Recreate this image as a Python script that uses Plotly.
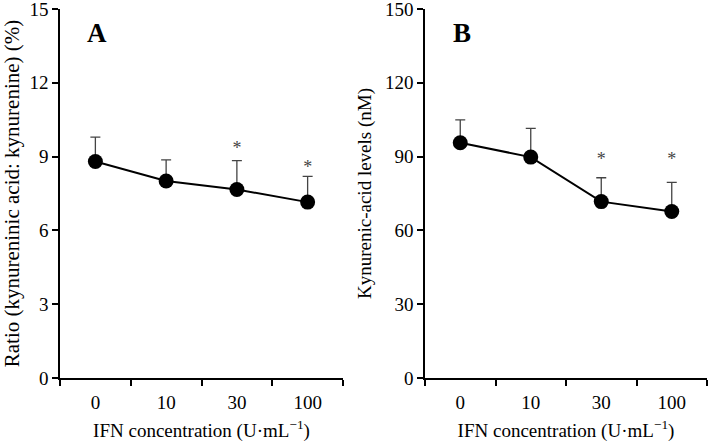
import plotly.graph_objects as go

categories = ["0", "10", "30", "100"]
ratio_mean = [8.80, 8.01, 7.66, 7.15]
ratio_err = [0.99, 0.86, 1.18, 1.05]
kyna_mean = [95.6, 89.8, 71.7, 67.7]
kyna_err = [9.3, 11.7, 9.7, 11.8]
ratio_star_cats = ["30", "100"]
ratio_star_y = [9.3, 8.5]
kyna_star_cats = ["30", "100"]
kyna_star_y = [88.5, 88.5]

font_family = "Liberation Serif, Times New Roman, serif"
W, H = 709, 445
TOP, BOT = 9, 67
PH = H - TOP - BOT

fig = go.Figure()

def add_panel(xa, ya, mean, err):
    fig.add_trace(go.Scatter(
        x=categories, y=mean, xaxis=xa, yaxis=ya, mode="lines+markers",
        line=dict(color="black", width=2),
        marker=dict(color="black", size=15),
        error_y=dict(type="data", array=err, arrayminus=[0]*len(err), symmetric=False,
                     color="#444444", thickness=1.3, width=5),
        showlegend=False, hoverinfo="skip"))

add_panel("x", "y", ratio_mean, ratio_err)
add_panel("x2", "y2", kyna_mean, kyna_err)

fig.add_trace(go.Scatter(x=ratio_star_cats, y=ratio_star_y, xaxis="x", yaxis="y",
                         mode="text", text=["*"]*len(ratio_star_cats),
                         textfont=dict(family=font_family, size=18, color="#444444"),
                         showlegend=False, hoverinfo="skip"))
fig.add_trace(go.Scatter(x=kyna_star_cats, y=kyna_star_y, xaxis="x2", yaxis="y2",
                         mode="text", text=["*"]*len(kyna_star_cats),
                         textfont=dict(family=font_family, size=18, color="#444444"),
                         showlegend=False, hoverinfo="skip"))

xcommon = dict(type="category", categoryorder="array", categoryarray=categories,
               range=[-0.5, 3.5], tickson="boundaries", ticks="outside", ticklen=6,
               tickwidth=1.5, tickcolor="black", showline=True, linecolor="black",
               linewidth=1.5, showgrid=False, zeroline=False, automargin=False,
               ticklabeloverflow="allow", ticklabelstandoff=6,
               tickfont=dict(family=font_family, size=19, color="black"),
               title=dict(text="IFN concentration (U·mL<sup>−1</sup>)", standoff=12,
                          font=dict(family=font_family, size=19, color="black")))
ycommon = dict(ticks="outside", ticklen=6, tickwidth=1.5, tickcolor="black",
               showline=True, linecolor="black", linewidth=1.5, showgrid=False,
               zeroline=False, automargin=False, ticklabeloverflow="allow",
               tickfont=dict(family=font_family, size=19, color="black"))

fig.update_layout(
    width=W, height=H, paper_bgcolor="white", plot_bgcolor="white",
    margin=dict(l=0, r=0, t=TOP, b=BOT),
    xaxis=dict(domain=[60/W, 343/W], anchor="y", **xcommon),
    xaxis2=dict(domain=[425/W, 707/W], anchor="y2", **xcommon),
    yaxis=dict(domain=[0, 1], anchor="x", range=[0, 15], tickvals=[0, 3, 6, 9, 12, 15],
               title=dict(text="Ratio (kynureninic acid: kynurenine) (%)", standoff=8,
                          font=dict(family=font_family, size=21, color="black")),
               **ycommon),
    yaxis2=dict(domain=[0, 1], anchor="x2", range=[0, 150], tickvals=[0, 30, 60, 90, 120, 150],
                title=dict(text="Kynurenic-acid levels (nM)", standoff=8,
                           font=dict(family=font_family, size=19, color="black")),
                **ycommon),
    annotations=[
        dict(text="<b>A</b>", x=97/W, y=(H - BOT - 33)/PH, xref="paper", yref="paper",
             xanchor="center", yanchor="middle",
             showarrow=False, font=dict(family=font_family, size=27, color="black")),
        dict(text="<b>B</b>", x=462/W, y=(H - BOT - 33)/PH, xref="paper", yref="paper",
             xanchor="center", yanchor="middle",
             showarrow=False, font=dict(family=font_family, size=27, color="black")),
    ],
)

fig.write_html("out.html", config={"displayModeBar": False},
               post_script="document.body.style.margin='0';")
